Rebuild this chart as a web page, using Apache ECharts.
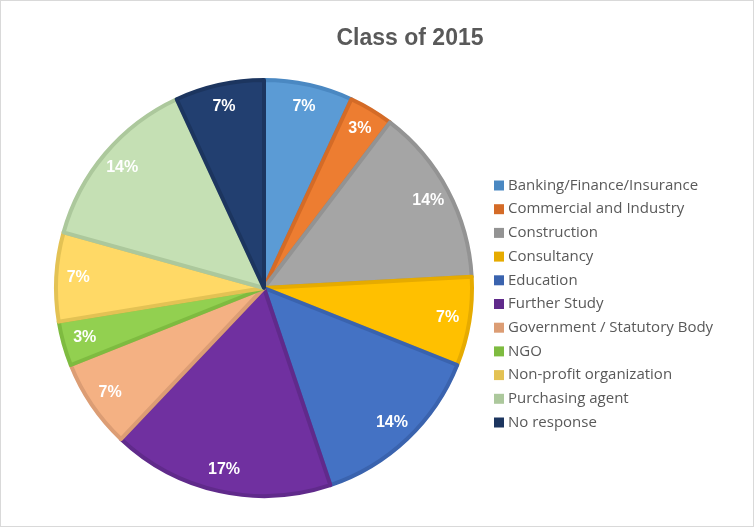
<!DOCTYPE html>
<html>
<head>
<meta charset="utf-8">
<script src="https://cdn.jsdelivr.net/npm/echarts@6/dist/echarts.min.js"></script>
<style>
  html, body { margin: 0; padding: 0; background: #fff; }
  #main { width: 752px; height: 525px; border: 1px solid #d9d9d9; }
</style>
</head>
<body>
<div id="main"></div>
<script>
const categories = [
    'Banking/Finance/Insurance',
    'Commercial and Industry',
    'Construction',
    'Consultancy',
    'Education',
    'Further Study',
    'Government / Statutory Body',
    'NGO',
    'Non-profit organization',
    'Purchasing agent',
    'No response'
];
// number of graduates per sector (29 in total)
const counts = [2, 1, 4, 2, 4, 5, 2, 1, 2, 4, 2];

const fillColors = ['#5b9bd5', '#ed7d31', '#a5a5a5', '#ffc000', '#4472c4', '#7030a0',
    '#f4b183', '#92d050', '#ffd966', '#c5e0b4', '#223f70'];
const edgeColors = ['#4a88c2', '#d46b27', '#939393', '#e6ab00', '#3a63ae', '#602a8b',
    '#dc9d74', '#7ebb40', '#e3c254', '#acc89c', '#1c355f'];

const total = counts.reduce((a, b) => a + b, 0);

const chartDom = document.getElementById('main');
const myChart = echarts.init(chartDom);

const pieData = categories.map((name, i) => ({
    name: name,
    value: counts[i],
    itemStyle: { color: fillColors[i], borderColor: edgeColors[i], borderWidth: 4 }
}));

const labelData = categories.map((name, i) => ({
    name: name,
    value: counts[i]
}));

const option = {
    animation: false,
    title: {
        text: 'Class of 2015',
        left: 404,
        top: 21,
        textAlign: 'center',
        textStyle: {
            fontFamily: 'Liberation Sans',
            fontSize: 23,
            fontWeight: 'bold',
            color: '#595959'
        }
    },
    legend: {
        orient: 'vertical',
        left: 493,
        top: 177,
        padding: 0,
        itemWidth: 10,
        itemHeight: 10,
        itemGap: 8.7,
        icon: 'rect',
        data: categories.map((name, i) => ({ name: name, itemStyle: { color: edgeColors[i], borderWidth: 0 } })),
        textStyle: {
            fontFamily: 'Open Sans',
            fontSize: 15,
            color: '#595959',
            padding: [0, 0, 0, -1]
        }
    },
    series: [
        {
            name: 'Class of 2015',
            type: 'pie',
            center: [263, 287],
            radius: [0, 208],
            startAngle: 90,
            clockwise: true,
            label: { show: false },
            labelLine: { show: false },
            emphasis: { disabled: true },
            data: pieData
        },
        {
            // transparent ring, only used to place the percentage labels
            name: 'labels',
            type: 'pie',
            center: [263, 287],
            radius: [158, 208],
            startAngle: 90,
            clockwise: true,
            silent: true,
            legendHoverLink: false,
            itemStyle: { color: 'rgba(0,0,0,0)', borderWidth: 0 },
            label: {
                show: true,
                position: 'inside',
                formatter: (p) => Math.round(p.value / total * 100) + '%',
                fontFamily: 'Liberation Sans',
                fontSize: 16,
                fontWeight: 'bold',
                color: '#ffffff'
            },
            labelLine: { show: false },
            data: labelData
        }
    ]
};

myChart.setOption(option);
</script>
</body>
</html>
